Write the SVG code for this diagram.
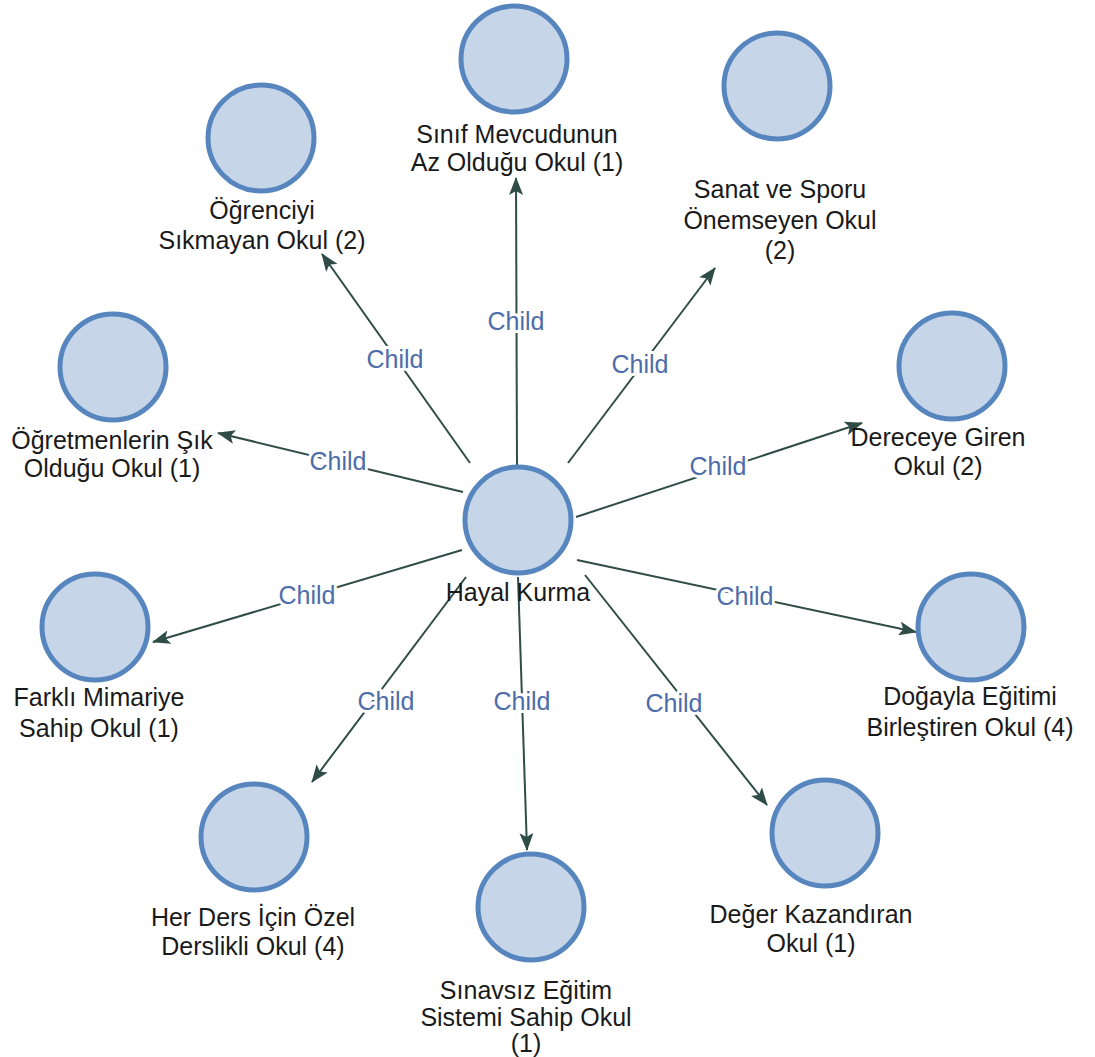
<svg xmlns="http://www.w3.org/2000/svg" width="1095" height="1057" viewBox="0 0 1095 1057">
<defs>
<style>
.node circle{fill:#c6d5e8;stroke:#5786bf;stroke-width:5}
.lbl{font-family:"Liberation Sans",Arial,sans-serif;font-size:25px;fill:#1a1a1a;text-anchor:middle}
.edge line{stroke:#2f4d46;stroke-width:2;marker-end:url(#arr)}
.cl{font-family:"Liberation Sans",Arial,sans-serif;font-size:25px;fill:#4d6caa;text-anchor:middle;stroke:#ffffff;stroke-width:6;paint-order:stroke;stroke-linejoin:round}
</style>
<marker id="arr" markerWidth="18" markerHeight="14" refX="17" refY="7" orient="auto" markerUnits="userSpaceOnUse">
<path d="M0,0 L18,7 L0,14 L4,7 z" fill="#2f4d46"/>
</marker>
</defs>
<rect width="1095" height="1057" fill="#ffffff"/>
<g id="connectors" class="edge">
<line x1="517" y1="465" x2="516" y2="178"/>
<line x1="470" y1="463" x2="322" y2="254"/>
<line x1="568" y1="463" x2="715" y2="268"/>
<line x1="463" y1="492" x2="218" y2="433"/>
<line x1="576" y1="517" x2="862" y2="423"/>
<line x1="462" y1="550" x2="153" y2="642"/>
<line x1="577" y1="560" x2="916" y2="632"/>
<line x1="466" y1="577" x2="312" y2="782"/>
<line x1="518" y1="577" x2="527" y2="850"/>
<line x1="585" y1="575" x2="767" y2="805"/>
<text class="cl" x="516" y="330">Child</text>
<text class="cl" x="395" y="368">Child</text>
<text class="cl" x="640" y="373">Child</text>
<text class="cl" x="338" y="470">Child</text>
<text class="cl" x="718" y="475">Child</text>
<text class="cl" x="307" y="604">Child</text>
<text class="cl" x="745" y="605">Child</text>
<text class="cl" x="386" y="710">Child</text>
<text class="cl" x="522" y="710">Child</text>
<text class="cl" x="674" y="712">Child</text>
</g>
<g id="n-center" class="node"><circle cx="518" cy="520" r="53"/><text class="lbl" x="518" y="601">Hayal Kurma</text></g>
<g id="n-sinif" class="node"><circle cx="514" cy="59" r="53"/><text class="lbl" x="517" y="143">Sınıf Mevcudunun</text><text class="lbl" x="517" y="171">Az Olduğu Okul (1)</text></g>
<g id="n-ogrenci" class="node"><circle cx="261" cy="138" r="53"/><text class="lbl" x="262" y="219">Öğrenciyi</text><text class="lbl" x="262" y="249">Sıkmayan Okul (2)</text></g>
<g id="n-sanat" class="node"><circle cx="777" cy="86" r="53"/><text class="lbl" x="780" y="198">Sanat ve Sporu</text><text class="lbl" x="780" y="229">Önemseyen Okul</text><text class="lbl" x="780" y="259">(2)</text></g>
<g id="n-ogretmen" class="node"><circle cx="113" cy="367" r="53"/><text class="lbl" x="112" y="449">Öğretmenlerin Şık</text><text class="lbl" x="112" y="477">Olduğu  Okul (1)</text></g>
<g id="n-derece" class="node"><circle cx="952" cy="366" r="53"/><text class="lbl" x="938" y="446">Dereceye Giren</text><text class="lbl" x="938" y="475">Okul (2)</text></g>
<g id="n-farkli" class="node"><circle cx="95" cy="627" r="53"/><text class="lbl" x="99" y="706">Farklı Mimariye</text><text class="lbl" x="99" y="737">Sahip Okul (1)</text></g>
<g id="n-doga" class="node"><circle cx="971" cy="627" r="53"/><text class="lbl" x="970" y="705">Doğayla Eğitimi</text><text class="lbl" x="970" y="736">Birleştiren Okul (4)</text></g>
<g id="n-herders" class="node"><circle cx="254" cy="837" r="53"/><text class="lbl" x="253" y="926">Her Ders İçin Özel</text><text class="lbl" x="253" y="955">Derslikli Okul (4)</text></g>
<g id="n-sinavsiz" class="node"><circle cx="531" cy="907" r="53"/><text class="lbl" x="526" y="999">Sınavsız Eğitim</text><text class="lbl" x="526" y="1026">Sistemi Sahip Okul</text><text class="lbl" x="526" y="1052">(1)</text></g>
<g id="n-deger" class="node"><circle cx="825" cy="833" r="53"/><text class="lbl" x="811" y="923">Değer Kazandıran</text><text class="lbl" x="811" y="952">Okul  (1)</text></g>
</svg>
